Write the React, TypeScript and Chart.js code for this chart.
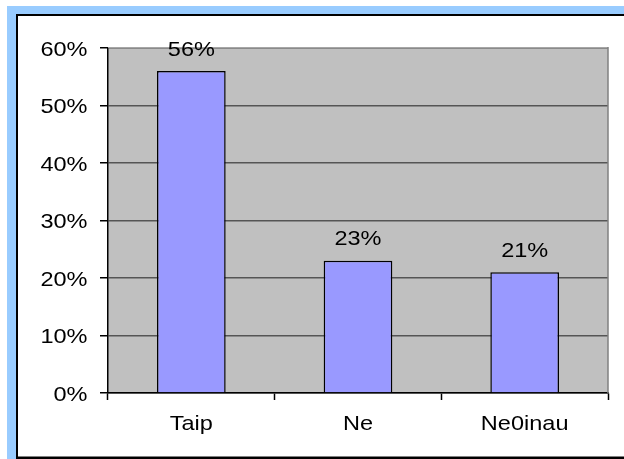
import React, { useEffect, useRef } from "react";
import { Chart, registerables } from "chart.js";

Chart.register(...registerables);

const categories = ["Taip", "Ne", "Ne0inau"];
const values = [56, 23, 21];
const yMax = 60;
const yStep = 10;

const FONT = '21px "Liberation Sans", Arial, sans-serif';
const STRETCH = 1.12;

function drawText(ctx: CanvasRenderingContext2D, text: string, x: number, y: number, align: CanvasTextAlign) {
  ctx.save();
  ctx.translate(x, y);
  ctx.scale(STRETCH, 1);
  ctx.font = FONT;
  ctx.fillStyle = "#000";
  ctx.textAlign = align;
  ctx.textBaseline = "alphabetic";
  ctx.fillText(text, 0, 0);
  ctx.restore();
}

const framePlugin = {
  id: "frame",
  beforeDraw(chart: any) {
    const { ctx, chartArea } = chart;
    ctx.save();
    ctx.fillStyle = "#99CCFF";
    ctx.fillRect(7, 6, 617, 453);
    ctx.fillStyle = "#000";
    ctx.fillRect(16, 14, 608, 445);
    ctx.fillStyle = "#fff";
    ctx.fillRect(18, 16, 606, 440.5);
    ctx.fillStyle = "#C0C0C0";
    ctx.fillRect(chartArea.left, chartArea.top, chartArea.right - chartArea.left, chartArea.bottom - chartArea.top);
    ctx.restore();
  },
  afterDraw(chart: any) {
    const { ctx, chartArea } = chart;
    ctx.save();
    ctx.strokeStyle = "#A6A6A6";
    ctx.lineWidth = 1;
    ctx.beginPath();
    ctx.moveTo(chartArea.left, chartArea.top - 0.5);
    ctx.lineTo(chartArea.right, chartArea.top - 0.5);
    ctx.stroke();
    ctx.strokeStyle = "#808080";
    ctx.lineWidth = 1.5;
    ctx.beginPath();
    ctx.moveTo(chartArea.right, chartArea.top - 1);
    ctx.lineTo(chartArea.right, chartArea.bottom);
    ctx.stroke();
    ctx.restore();

    const yScale = chart.scales.y;
    yScale.ticks.forEach((t: any, i: number) => {
      const y = yScale.getPixelForTick(i);
      drawText(ctx, t.label as string, 87.5, y + 7.5, "right");
    });
    const xScale = chart.scales.x;
    xScale.ticks.forEach((t: any, i: number) => {
      const x = xScale.getPixelForTick(i);
      drawText(ctx, String(categories[i]), x, 430, "center");
    });
    const meta = chart.getDatasetMeta(0);
    meta.data.forEach((bar: any, i: number) => {
      drawText(ctx, values[i] + "%", bar.x, bar.y - 15.5, "center");
    });
  },
};

export default function App() {
  const ref = useRef<HTMLCanvasElement | null>(null);
  useEffect(() => {
    if (!ref.current) return;
    const chart = new Chart(ref.current, {
      type: "bar",
      data: {
        labels: categories,
        datasets: [
          {
            data: values,
            backgroundColor: "#9999FF",
            borderColor: "#000",
            borderWidth: 1.5,
            barPercentage: 0.412,
            categoryPercentage: 1,
          },
        ],
      },
      options: {
        responsive: false,
        animation: false,
        devicePixelRatio: 1,
        layout: { padding: { left: 0, top: 48, right: 16, bottom: 0 } },
        plugins: { legend: { display: false }, tooltip: { enabled: false } },
        scales: {
          x: {
            offset: true,
            grid: { offset: true, drawOnChartArea: false, tickLength: 7, tickColor: "#000", tickWidth: 1.5 },
            border: { color: "#000", width: 1.5 },
            ticks: { color: "rgba(0,0,0,0)", font: { size: 10 } },
            afterFit: (s: any) => { s.height = 66; },
          },
          y: {
            min: 0,
            max: yMax,
            ticks: {
              stepSize: yStep,
              color: "rgba(0,0,0,0)",
              font: { size: 10 },
              callback: (v: any) => v + "%",
            },
            grid: { color: "#555", lineWidth: 1.5, tickLength: 8, tickColor: "#000", tickWidth: 1.5 },
            border: { color: "#000", width: 1.5 },
            afterFit: (s: any) => { s.width = 108; },
          },
        },
      },
      plugins: [framePlugin],
    });
    return () => chart.destroy();
  }, []);
  return (
    <div style={{ position: "absolute", left: 0, top: 0, width: 624, height: 459 }}>
      <canvas ref={ref} width={624} height={459} style={{ display: "block" }} />
    </div>
  );
}
